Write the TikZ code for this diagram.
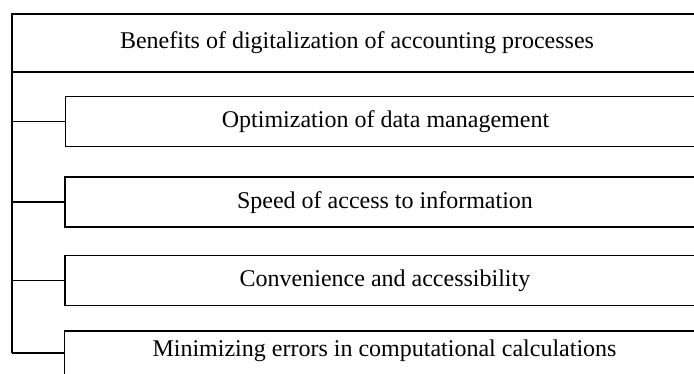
\documentclass[tikz,border=0pt]{standalone}
\usepackage{fontspec}
\setmainfont{Liberation Serif}
\usetikzlibrary{positioning}

\begin{document}
\begin{tikzpicture}[x=1pt,y=-1pt,
  topbox/.style={draw,line width=1.2pt,anchor=north west,outer sep=0pt,inner sep=0pt,minimum width=690pt,minimum height=58pt,text height=17pt,text depth=4pt,font=\fontsize{24}{28}\selectfont},
  itembox/.style={topbox,minimum width=640pt,minimum height=50pt},
  link/.style={line width=1.2pt}]
\useasboundingbox (0,0) rectangle (694,374);
\clip (0,0) rectangle (694,374);
% header and the four benefits
\node[topbox,text depth=6pt] (head) at (12,14) {Benefits of digitalization of accounting processes};
\node[itembox] (opt) at (65.5,96.5) {Optimization of data management};
\node[itembox] (speed) at (65,177) {Speed of access to information};
\node[itembox] (conv) at (65,255.5) {Convenience and accessibility};
\node[itembox,minimum height=44pt,text depth=10pt] (minerr) at (64.5,331) {Minimizing errors in computational calculations};
% tree lines
\draw[link] (head.south west) -- (head.south west |- minerr.west);
\foreach \b in {opt,speed,conv,minerr}
  \draw[link] (head.south west |- \b.west) -- (\b.west);
\end{tikzpicture}
\end{document}
